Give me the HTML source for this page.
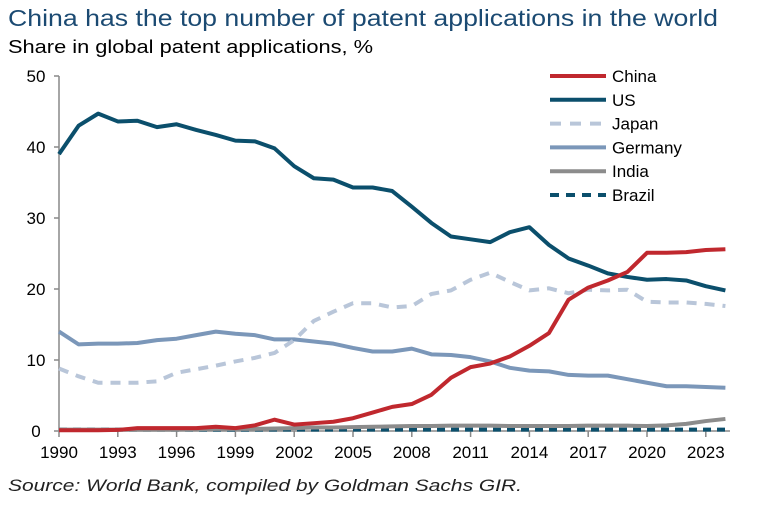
<!DOCTYPE html>
<html><head><meta charset="utf-8"><style>
html,body{margin:0;padding:0;background:#fff;}
svg{display:block;font-family:"Liberation Sans",sans-serif;}
</style></head><body>
<svg width="775" height="507" viewBox="0 0 775 507">
<text x="8" y="26" font-size="23" fill="#1b4a72" textLength="710" lengthAdjust="spacingAndGlyphs">China has the top number of patent applications in the world</text>
<text x="8" y="53" font-size="18" fill="#000" textLength="365" lengthAdjust="spacingAndGlyphs">Share in global patent applications, %</text>
<g id="axes"></g>
<g id="series"></g>
<g id="legend"></g>
<text x="8" y="491" font-size="17" font-style="italic" fill="#222" textLength="514" lengthAdjust="spacingAndGlyphs">Source: World Bank, compiled by Goldman Sachs GIR.</text>
</svg>
<script>
const years=[];for(let y=1990;y<=2024;y++)years.push(y);
const china=[0.1,0.1,0.1,0.15,0.4,0.4,0.4,0.4,0.6,0.4,0.8,1.6,0.9,1.1,1.3,1.8,2.6,3.4,3.8,5.1,7.5,9,9.5,10.5,12,13.8,18.5,20.2,21.2,22.4,25.1,25.1,25.2,25.5,25.6];
const us=[39,43,44.7,43.6,43.7,42.8,43.2,42.4,41.7,40.9,40.8,39.8,37.3,35.6,35.4,34.3,34.3,33.8,31.6,29.3,27.4,27,26.6,28,28.7,26.2,24.3,23.3,22.2,21.7,21.3,21.4,21.2,20.4,19.8];
const japan=[8.8,7.7,6.8,6.8,6.8,7.0,8.2,8.7,9.2,9.8,10.3,11,12.8,15.5,16.8,18,18,17.4,17.6,19.3,19.8,21.3,22.3,21,19.8,20.1,19.4,19.9,19.8,19.9,18.2,18.1,18.1,17.9,17.6];
const germany=[14,12.2,12.3,12.3,12.4,12.8,13,13.5,14,13.7,13.5,12.9,12.9,12.6,12.3,11.7,11.2,11.2,11.6,10.8,10.7,10.4,9.8,8.9,8.5,8.4,7.9,7.8,7.8,7.3,6.8,6.3,6.3,6.2,6.1];
const india=[0.2,0.2,0.2,0.2,0.2,0.2,0.2,0.25,0.3,0.3,0.3,0.35,0.4,0.5,0.5,0.55,0.6,0.65,0.7,0.7,0.75,0.75,0.75,0.7,0.7,0.7,0.7,0.75,0.75,0.75,0.7,0.8,1.0,1.4,1.7];
const brazil=[0.2,0.2,0.2,0.2,0.2,0.2,0.2,0.2,0.2,0.2,0.2,0.2,0.2,0.2,0.2,0.2,0.2,0.2,0.2,0.2,0.2,0.2,0.2,0.2,0.2,0.2,0.2,0.2,0.2,0.2,0.2,0.2,0.2,0.2,0.2];
const yTicks=[0,10,20,30,40,50];
const xTicks=[1990,1993,1996,1999,2002,2005,2008,2011,2014,2017,2020,2023];
const NS="http://www.w3.org/2000/svg";
const x=v=>59+(v-1990)*19.6;
const y=v=>431-v*7.1;
function mk(tag,attrs,parent){const e=document.createElementNS(NS,tag);for(const k in attrs)e.setAttribute(k,attrs[k]);parent.appendChild(e);return e;}
const axes=document.getElementById('axes');
const yAxis=mk('line',{x1:59,y1:y(50),x2:59,y2:y(0),stroke:'#888','stroke-width':1.5},axes);


const xAxis=mk('line',{x1:59,y1:y(0),x2:730,y2:y(0),stroke:'#888','stroke-width':1.5},axes);


yTicks.forEach(t=>{
 mk('line',{x1:54,y1:y(t),x2:59,y2:y(t),stroke:'#888','stroke-width':1.5},axes);
 const tx=mk('text',{x:36,y:y(t)+6,'font-size':17,'text-anchor':'middle',fill:'#000'},axes);tx.textContent=t;
 
 
});
xTicks.forEach(t=>{
 mk('line',{x1:x(t),y1:y(0),x2:x(t),y2:y(0)+6,stroke:'#888','stroke-width':1.5},axes);
 const tx=mk('text',{x:x(t),y:458,'font-size':17,'text-anchor':'middle',fill:'#000'},axes);tx.textContent=t;
 
 
});
const series=[
 {name:'Brazil',d:brazil,c:'#0b4f6c',dash:'8,6'},
 {name:'India',d:india,c:'#8c8c8c',dash:''},
 {name:'Germany',d:germany,c:'#7b97b9',dash:''},
 {name:'Japan',d:japan,c:'#b9c6d9',dash:'10,8'},
 {name:'US',d:us,c:'#0b4f6c',dash:''},
 {name:'China',d:china,c:'#c0282e',dash:''}
];
const sg=document.getElementById('series');
series.forEach(s=>{
 const p=mk('polyline',{points:s.d.map((v,i)=>x(years[i])+','+y(v)).join(' '),fill:'none',stroke:s.c,'stroke-width':4,'stroke-dasharray':s.dash,'stroke-linejoin':'round'},sg);
 
 
});
const lg=document.getElementById('legend');
const order=['China','US','Japan','Germany','India','Brazil'];
order.forEach((n,i)=>{
 const s=series.find(q=>q.name===n);const yy=76+i*23.8;
 const g=mk('g',{},lg);
 
 
 mk('line',{x1:550,y1:yy,x2:606,y2:yy,stroke:s.c,'stroke-width':4,'stroke-dasharray':s.dash?(n==='Japan'?'11,9':'9,7'):''},g);
 const t=mk('text',{x:612,y:yy+6,'font-size':17,fill:'#000'},g);t.textContent=n;
});
</script>
</body></html>
